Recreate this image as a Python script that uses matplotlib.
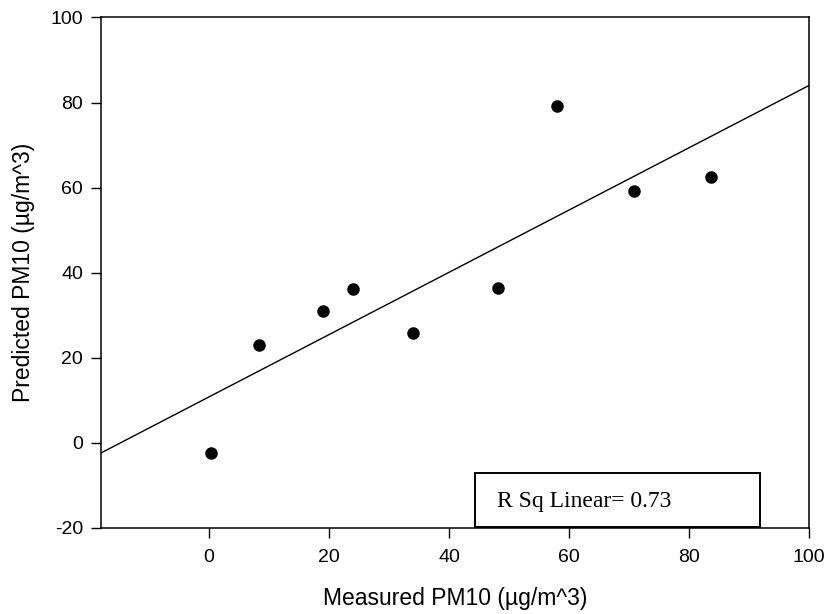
import numpy as np
import matplotlib
matplotlib.use("Agg")
import matplotlib.pyplot as plt
from matplotlib.patches import Rectangle

measured = [0.4, 8.3, 19.0, 24.0, 34.0, 48.1, 57.9, 70.8, 83.7]
predicted = [-2.4, 23.0, 31.1, 36.1, 25.9, 36.4, 79.1, 59.3, 62.4]
x_ticks = [0, 20, 40, 60, 80, 100]
y_ticks = [-20, 0, 20, 40, 60, 80, 100]
r2_label = "R Sq Linear= 0.73"

plt.rcParams['font.family'] = ['Liberation Sans', 'DejaVu Sans']
plt.rcParams['axes.unicode_minus'] = False

fig = plt.figure(figsize=(8.27, 6.14), dpi=100)
ax = fig.add_axes([0.1221, 0.1401, 0.8565, 0.8314])

ax.plot(measured, predicted, 'o', color='black', markersize=8)

xmin, xmax = -18, 100
slope, intercept = np.polyfit(measured, predicted, 1)
xs = np.array([xmin, xmax])
ax.plot(xs, slope * xs + intercept, color='black', linewidth=1.0)

ax.set_xlim(xmin, xmax)
ax.set_ylim(-20, 100)
ax.set_xticks(x_ticks)
ax.set_yticks(y_ticks)
ax.tick_params(axis='both', direction='out', length=7, width=1.0, labelsize=14,
               top=False, right=False)
ax.tick_params(axis='x', pad=8)
ax.tick_params(axis='y', pad=6)
for s in ax.spines.values():
    s.set_linewidth(1.1)

ax.set_xlabel('Measured PM10 (µg/m^3)', fontsize=16.5, labelpad=15)
ax.set_ylabel('Predicted PM10 (µg/m^3)', fontsize=16.5, labelpad=11)

rect = Rectangle((0.528, 0.002), 0.403, 0.105, transform=ax.transAxes,
                 fill=False, edgecolor='black', linewidth=1.4, zorder=5)
ax.add_patch(rect)
ax.text(0.559, 0.0417, r2_label, transform=ax.transAxes, va='baseline', ha='left',
        fontsize=17, family=['Liberation Serif', 'DejaVu Serif'], zorder=6)

fig.savefig('out.png', dpi=100)
